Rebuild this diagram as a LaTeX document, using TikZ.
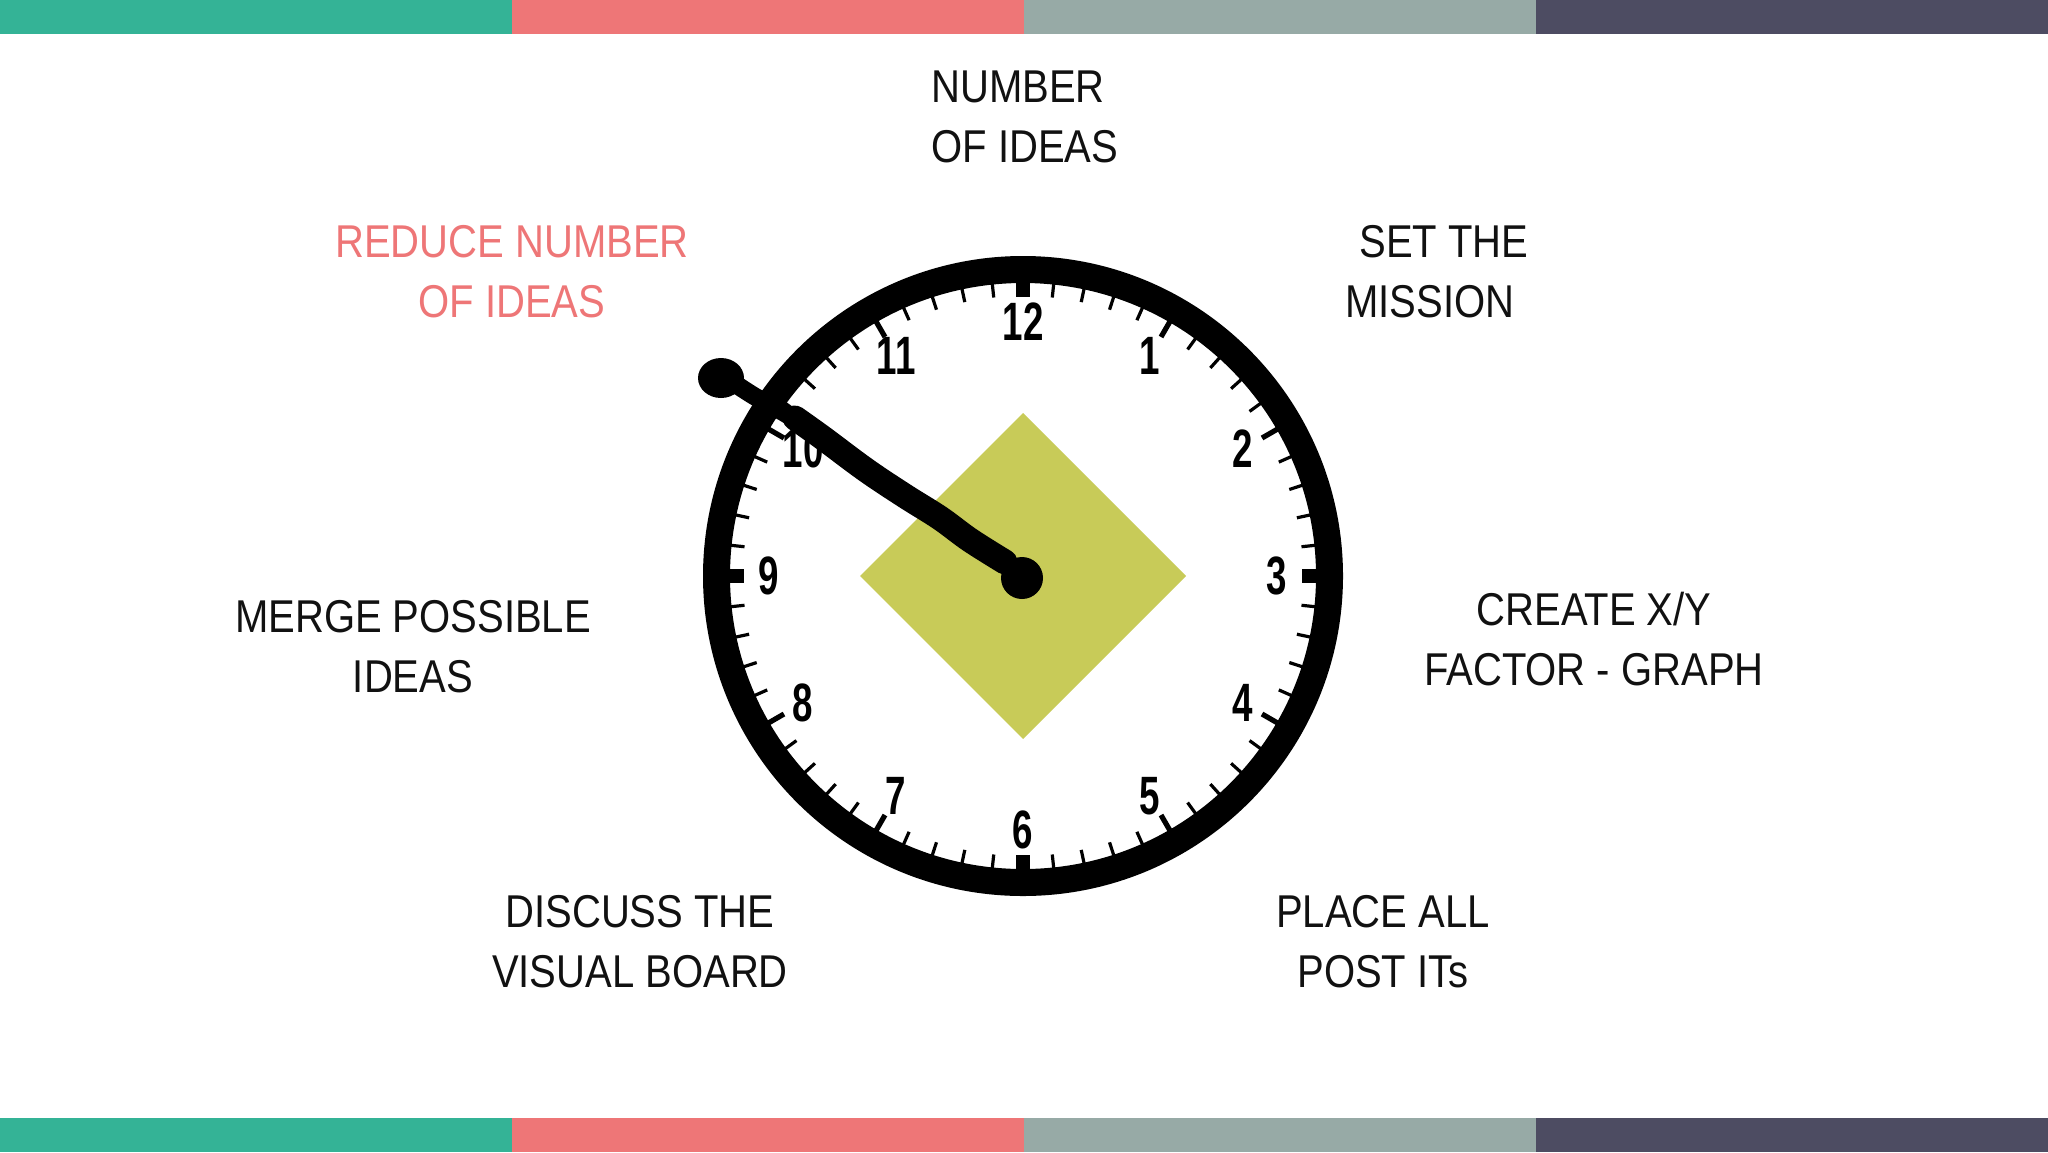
\documentclass[tikz,border=0pt]{standalone}
\usepackage{fontspec}
\setmainfont{Liberation Sans}[FakeStretch=0.87]
\newfontfamily\numfont{Liberation Sans}[FakeStretch=0.68]
\definecolor{cteal}{HTML}{34B396}
\definecolor{ccoral}{HTML}{EE7677}
\definecolor{cgray}{HTML}{97AAA6}
\definecolor{cdark}{HTML}{4D4C62}
\definecolor{cgreen}{HTML}{C8CB58}
\definecolor{ctext}{HTML}{111111}
\tikzset{
  lbl/.style={font=\fontsize{23pt}{30pt}\selectfont, text=ctext, inner sep=0pt, align=center},
  num/.style={font=\numfont\bfseries\fontsize{27pt}{27pt}\selectfont, inner sep=0pt},
  minutetick/.style={line width=1.6pt},
  hourtick/.style={line width=2.6pt},
  quartertick/.style={line width=7pt},
  hand/.style={line width=9pt, line cap=round, line join=round},
  handthick/.style={line width=12.5pt, line cap=round, line join=round},
}
\begin{document}
\begin{tikzpicture}[x=0.5pt, y=-0.5pt]
\useasboundingbox (0,0) rectangle (2048,1152);
\fill[white] (0,0) rectangle (2048,1152);
% colour bars
\fill[cteal] (0,0) rectangle (512,34);
\fill[ccoral] (512,0) rectangle (1024,34);
\fill[cgray] (1024,0) rectangle (1536,34);
\fill[cdark] (1536,0) rectangle (2048,34);
\fill[cteal] (0,1118) rectangle (512,1152);
\fill[ccoral] (512,1118) rectangle (1024,1152);
\fill[cgray] (1024,1118) rectangle (1536,1152);
\fill[cdark] (1536,1118) rectangle (2048,1152);
% clock
\coordinate (c) at (1023,576);
\begin{scope}[shift={(c)}]
  \fill[cgreen] (0,-163) -- (163,0) -- (0,163) -- (-163,0) -- cycle;
  \draw[line width=13.5pt] (0,0) circle[radius=306.5];
  \foreach \i in {0,...,59} {
    \pgfmathtruncatemacro{\m}{mod(\i,5)}
    \pgfmathtruncatemacro{\q}{mod(\i,15)}
    \ifnum\q=0
      \draw[quartertick] ({300*sin(6*\i)},{-300*cos(6*\i)}) -- ({279*sin(6*\i)},{-279*cos(6*\i)});
    \else\ifnum\m=0
      \draw[hourtick] ({294*sin(6*\i)},{-294*cos(6*\i)}) -- ({276*sin(6*\i)},{-276*cos(6*\i)});
    \else
      \draw[minutetick] ({294*sin(6*\i)},{-294*cos(6*\i)}) -- ({280*sin(6*\i)},{-280*cos(6*\i)});
    \fi\fi
  }
  \foreach \h in {1,...,12} {
    \node[num] (n\h) at ({254*sin(30*\h)},{-254*cos(30*\h)}) {\h};
  }
\end{scope}
% hand
\draw[hand] plot[smooth, tension=0.6] coordinates {(1022,580) (1001,561) (970,540) (940,518) (905,496) (866,470) (823,438) (788,415) (754,396) (722,375)};
\draw[handthick] plot[smooth, tension=0.6] coordinates {(1005,562) (970,540) (940,518) (905,496) (866,470) (823,438) (795,418)};
\fill (1022,578) circle[radius=21];
\fill (721,378) ellipse[x radius=23, y radius=20];
% labels
\node[lbl, align=left, anchor=west] (top) at (931,117) {NUMBER\\OF IDEAS};
\node[lbl, text=ccoral] (reduce) at (512,272) {REDUCE NUMBER\\OF IDEAS};
\node[lbl, align=left, anchor=west] (mission) at (1345,272) {\hspace*{7pt}SET THE\\MISSION};
\node[lbl] (create) at (1594,639) {CREATE X/Y\\FACTOR - GRAPH};
\node[lbl] (place) at (1383,942) {PLACE ALL\\POST ITs};
\node[lbl] (discuss) at (640,942) {DISCUSS THE\\VISUAL BOARD};
\node[lbl] (merge) at (413,647) {MERGE POSSIBLE\\IDEAS};
\end{tikzpicture}
\end{document}
